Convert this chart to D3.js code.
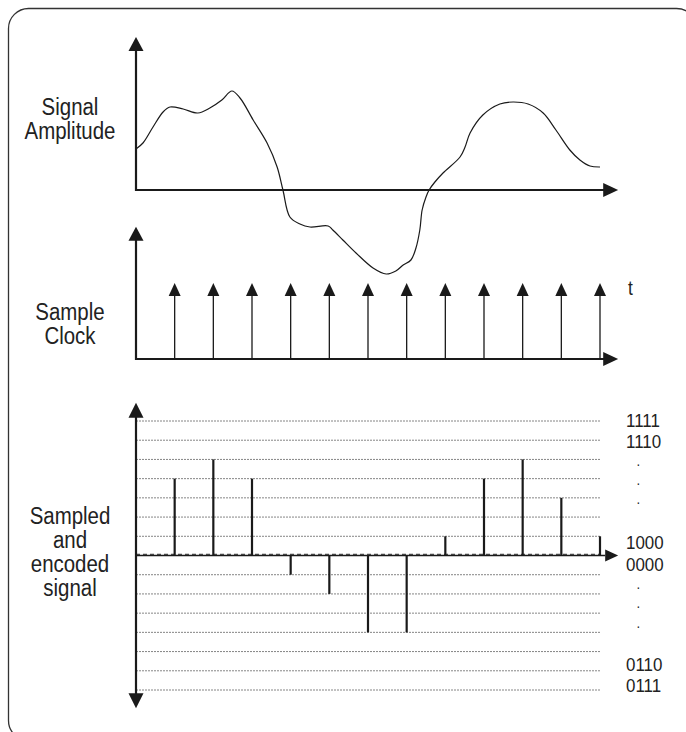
<!DOCTYPE html>
<html>
<head>
<meta charset="utf-8">
<script src="https://cdn.jsdelivr.net/npm/d3@7"></script>
<style>
  html, body { margin: 0; padding: 0; background: #fff; }
  text { font-family: "Liberation Sans", Arial, sans-serif; fill: #222; }
</style>
</head>
<body>
<div id="chart"></div>
<script>
/* DATA */
// analog signal trace: time in sample periods, amplitude in arbitrary units
const signalTime = [0, 0.18, 0.44, 0.70, 0.88, 1.22, 1.60, 1.91, 2.22, 2.48, 2.69, 3.03, 3.39, 3.65, 3.80,
  3.98, 4.24, 4.50, 4.97, 5.09, 5.35, 5.69, 6.13, 6.47, 6.72, 6.91, 7.11, 7.24, 7.34, 7.40, 7.50, 7.58,
  7.73, 7.94, 8.38, 8.51, 8.64, 8.97, 9.41, 9.75, 10.14, 10.53, 10.86, 11.22, 11.48, 11.74, 12.0];
const signalAmp = [4.1, 4.7, 6.3, 7.8, 8.3, 8.1, 7.7, 8.2, 9.0, 9.9, 9.2, 7.0, 4.7, 2.3, 0,
  -2.7, -3.4, -3.7, -3.6, -4.0, -5.0, -6.3, -7.8, -8.4, -8.1, -7.5, -7.0, -5.8, -4.0, -2.0, -0.7, 0,
  0.8, 1.7, 3.3, 4.3, 5.7, 7.5, 8.6, 8.8, 8.6, 7.7, 6.0, 4.0, 3.0, 2.4, 2.3];

// sample clock ticks and quantized levels
const sampleTimes = [1, 2, 3, 4, 5, 6, 7, 8, 9, 10, 11, 12];
const sampleLevels = [4, 5, 4, -1, -2, -4, -4, 1, 4, 5, 3, 1];

// quantization grid
const gridLevels = [-7, -6, -5, -4, -3, -2, -1, 1, 2, 3, 4, 5, 6, 7];
const codeLabels = ["1111", "1110", ".", ".", ".", "1000", "0000", ".", ".", ".", "0110", "0111"];
const codePos = [7.05, 5.95, 5, 4, 3, 0.7, -0.45, -1.4, -2.4, -3.45, -5.65, -6.75];

const titleSignal = ["Signal", "Amplitude"];
const titleClock = ["Sample", "Clock"];
const titleEncoded = ["Sampled", "and", "encoded", "signal"];

/* LAYOUT */
const width = 686, height = 732;
const ink = "#1a1a1a";

const svg = d3.select("#chart").append("svg")
  .attr("width", width)
  .attr("height", height);

// frame
svg.append("rect")
  .attr("x", 8.5).attr("y", 8.5)
  .attr("width", 688).attr("height", 732)
  .attr("rx", 20)
  .attr("fill", "none")
  .attr("stroke", "#333")
  .attr("stroke-width", 1.3);

// SCALES
const xScale = d3.scaleLinear().domain([0, 12]).range([136, 600]);
const ampScale = d3.scaleLinear().domain([0, 15.3]).range([190, 37]);
const clockScale = d3.scaleLinear().domain([0, 1]).range([359, 283]);
const levelScale = d3.scaleLinear().domain([-7, 7]).range([690, 421]);

const x0 = xScale(0);
const xEnd = xScale(12.47);

// triangle arrowhead, tip at (x, y)
function arrowHead(g, x, y, dir, len, wid) {
  let pts;
  if (dir === "up") pts = [[x, y], [x - wid / 2, y + len], [x + wid / 2, y + len]];
  else if (dir === "down") pts = [[x, y], [x - wid / 2, y - len], [x + wid / 2, y - len]];
  else pts = [[x, y], [x - len, y - wid / 2], [x - len, y + wid / 2]];
  g.append("path")
    .attr("d", "M" + pts.join("L") + "Z")
    .attr("fill", ink);
}

function vLine(g, x, y1, y2, w) {
  g.append("line")
    .attr("x1", x).attr("x2", x)
    .attr("y1", y1).attr("y2", y2)
    .attr("stroke", ink).attr("stroke-width", w);
}

function hLine(g, x1, x2, y, w) {
  g.append("line")
    .attr("x1", x1).attr("x2", x2)
    .attr("y1", y).attr("y2", y)
    .attr("stroke", ink).attr("stroke-width", w);
}

// condensed look: squeeze the glyphs horizontally
const squeeze = 0.87;
function titleBlock(lines, baseline) {
  svg.append("g").selectAll("text")
    .data(lines)
    .join("text")
    .attr("transform", (d, i) => `translate(70, ${baseline + i * 24}) scale(${squeeze}, 1)`)
    .attr("text-anchor", "middle")
    .attr("font-size", 23.5)
    .text(d => d);
}

/* PANEL 1: SIGNAL AMPLITUDE */
const ampPanel = svg.append("g");
const ampTop = ampScale(15.3);
vLine(ampPanel, x0, ampScale(0) + 1, ampTop + 13, 2.2);
arrowHead(ampPanel, x0, ampTop, "up", 14, 15);
hLine(ampPanel, x0 - 1, xEnd - 13, ampScale(0), 2.2);
arrowHead(ampPanel, xEnd, ampScale(0), "right", 15, 14);

const signal = signalTime.map((t, i) => ({ t: t, a: signalAmp[i] }));
const line = d3.line()
  .x(d => xScale(d.t))
  .y(d => ampScale(d.a))
  .curve(d3.curveCatmullRom.alpha(0.5));

svg.append("path")
  .datum(signal)
  .attr("d", line)
  .attr("fill", "none")
  .attr("stroke", ink)
  .attr("stroke-width", 1.2);

titleBlock(titleSignal, 115);

/* PANEL 2: SAMPLE CLOCK */
const clockPanel = svg.append("g");
const clockTop = clockScale(1.74);
vLine(clockPanel, x0, clockScale(0) + 1, clockTop + 13, 2.2);
arrowHead(clockPanel, x0, clockTop, "up", 14, 15);
hLine(clockPanel, x0 - 1, xEnd - 13, clockScale(0), 2.2);
arrowHead(clockPanel, xEnd, clockScale(0), "right", 15, 14);

sampleTimes.forEach(t => {
  vLine(clockPanel, xScale(t), clockScale(0), clockScale(1) + 12, 1.3);
  arrowHead(clockPanel, xScale(t), clockScale(1), "up", 13, 12);
});

svg.append("text")
  .attr("transform", `translate(628, 295) scale(${squeeze}, 1)`)
  .attr("font-size", 20)
  .text("t");

titleBlock(titleClock, 320);

/* PANEL 3: SAMPLED AND ENCODED */
const encPanel = svg.append("g");

encPanel.selectAll("line.grid")
  .data(gridLevels)
  .join("line")
  .attr("class", "grid")
  .attr("x1", x0).attr("x2", xScale(12))
  .attr("y1", d => levelScale(d)).attr("y2", d => levelScale(d))
  .attr("stroke", "#666")
  .attr("stroke-width", 0.8)
  .attr("stroke-dasharray", "2,1");

// zero level: solid line with a dashed overlay
hLine(encPanel, x0, xEnd - 13, levelScale(0), 1.4);
encPanel.append("line")
  .attr("x1", x0).attr("x2", xScale(12))
  .attr("y1", levelScale(0) - 1.2).attr("y2", levelScale(0) - 1.2)
  .attr("stroke", "#444")
  .attr("stroke-width", 1.2)
  .attr("stroke-dasharray", "4,3");
arrowHead(encPanel, xEnd, levelScale(0), "right", 13, 12);

const encTop = levelScale(7.95), encBottom = levelScale(-7.95);
vLine(encPanel, x0, encTop + 13, encBottom - 13, 2.2);
arrowHead(encPanel, x0, encTop, "up", 15, 15);
arrowHead(encPanel, x0, encBottom, "down", 15, 15);

encPanel.selectAll("line.bar")
  .data(sampleTimes.map((t, i) => ({ t: t, v: sampleLevels[i] })))
  .join("line")
  .attr("class", "bar")
  .attr("x1", d => xScale(d.t)).attr("x2", d => xScale(d.t))
  .attr("y1", levelScale(0))
  .attr("y2", d => levelScale(d.v))
  .attr("stroke", ink)
  .attr("stroke-width", 2.2);

encPanel.selectAll("text.code")
  .data(codeLabels.map((c, i) => ({ c: c, p: codePos[i] })))
  .join("text")
  .attr("class", "code")
  .attr("transform", d => `translate(${d.c === "." ? 636.5 : 626}, ${levelScale(d.p) + 6.5}) scale(0.94, 1)`)
  .attr("font-size", d => d.c === "." ? 14 : 18)
  .text(d => d.c);

titleBlock(titleEncoded, 524);
</script>
</body>
</html>
